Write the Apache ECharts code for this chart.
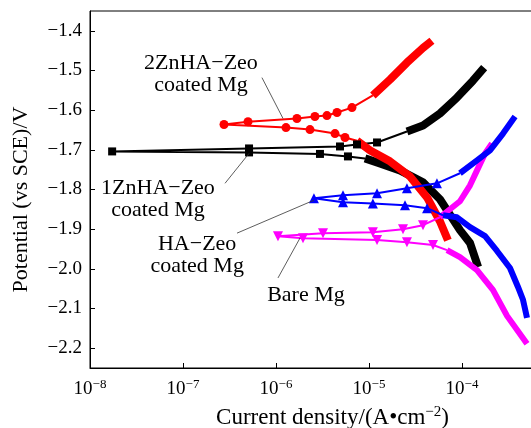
<!DOCTYPE html>
<html><head><meta charset="utf-8">
<script src="https://cdn.jsdelivr.net/npm/echarts@6/dist/echarts.min.js"></script>
<style>html,body{margin:0;padding:0;background:#fff}#c{width:531px;height:428px}</style>
</head><body><div id="c"></div>
<script>
// ---- data: [current density (A/cm2), potential (V vs SCE)] ----
const xTicks = [1e-8, 1e-7, 1e-6, 1e-5, 1e-4, 1e-3];
const yTicks = [-2.2, -2.1, -2.0, -1.9, -1.8, -1.7, -1.6, -1.5, -1.4];

// 2ZnHA-Zeo coated Mg (red)
const redCathDense = [[7.06e-5,-1.928],[5.79e-5,-1.880],[4.21e-5,-1.820],[2.76e-5,-1.767],[1.68e-5,-1.729],[1.03e-5,-1.7015],[7.43e-6,-1.677]];
const redCathSparse = [[5.52e-6,-1.669],[4.31e-6,-1.659],[2.32e-6,-1.649],[1.28e-6,-1.644]];
const redTip = [2.76e-7,-1.636];
const redAnSparse = [[5.0e-7,-1.629],[1.68e-6,-1.621],[2.62e-6,-1.616],[3.53e-6,-1.6136],[4.53e-6,-1.606],[6.56e-6,-1.5935]];
const redAnDense = [[1.10e-5,-1.563],[1.68e-5,-1.523],[2.56e-5,-1.480],[3.81e-5,-1.443],[4.75e-5,-1.425]];

// 1ZnHA-Zeo coated Mg (black)
const blackCathDense = [[1.49e-4,-1.9955],[1.22e-4,-1.935],[9.51e-5,-1.9025],[5.79e-5,-1.8246],[3.81e-5,-1.7819],[2.15e-5,-1.7518],[1.31e-5,-1.7342],[9.06e-6,-1.7216]];
const blackCathSparse = [[5.94e-6,-1.7166],[2.97e-6,-1.7103],[5.13e-7,-1.7065]];
const blackTip = [1.73e-8,-1.704];
const blackAnSparse = [[5.13e-7,-1.6965],[4.88e-6,-1.6915],[7.43e-6,-1.6864],[1.22e-5,-1.6814]];
const blackAnDense = [[2.56e-5,-1.6538],[3.81e-5,-1.6387],[5.79e-5,-1.6085],[8.83e-5,-1.5683],[1.31e-4,-1.5256],[1.73e-4,-1.493]];

// HA-Zeo coated Mg (blue)
const blueCathDense = [[5.0e-4,-2.1236],[4.53e-4,-2.078],[4.0e-4,-2.0457],[3.28e-4,-1.998],[2.38e-4,-1.955],[1.77e-4,-1.9176],[1.22e-4,-1.895],[8.83e-5,-1.870],[6.25e-5,-1.865]];
const blueCathSparse = [[4.21e-5,-1.847],[2.44e-5,-1.840],[1.10e-5,-1.835],[5.25e-6,-1.832]];
const blueTip = [2.56e-6,-1.822];
const blueAnSparse = [[5.25e-6,-1.8146],[1.22e-5,-1.8095],[2.56e-5,-1.797],[5.38e-5,-1.7844]];
const blueAnDense = [[9.51e-5,-1.759],[1.45e-4,-1.7266],[2.0e-4,-1.7015],[2.76e-4,-1.659],[3.72e-4,-1.616]];

// Bare Mg (magenta)
const magCathDense = [[5.0e-4,-2.189],[3.05e-4,-2.1186],[2.15e-4,-2.053],[1.45e-4,-2.003],[9.51e-5,-1.9704],[6.90e-5,-1.9528]];
const magCathSparse = [[4.88e-5,-1.940],[2.56e-5,-1.9327],[1.22e-5,-1.9276],[1.95e-6,-1.9226]];
const magTip = [1.05e-6,-1.9176];
const magAnSparse = [[3.20e-6,-1.910],[1.10e-5,-1.9075],[2.32e-5,-1.900],[3.81e-5,-1.890]];
const magAnDense = [[5.79e-5,-1.870],[9.51e-5,-1.8296],[1.22e-4,-1.7894],[1.45e-4,-1.7518],[1.77e-4,-1.709],[2.10e-4,-1.684]];

// annotation labels
const annTexts = ['2ZnHA\u2212Zeo\ncoated Mg', '1ZnHA\u2212Zeo\ncoated Mg', 'HA\u2212Zeo\ncoated Mg', 'Bare Mg'];
const annAt   = [[1.56e-7,-1.5106],[5.38e-8,-1.8246],[1.42e-7,-1.9653],[2.10e-6,-2.0658]];
const annFrom = [[7.06e-7,-1.518],[2.83e-7,-1.7844],[3.81e-7,-1.910],[1.05e-6,-2.023]];
const annTo   = [[1.19e-6,-1.621],[5.13e-7,-1.709],[2.56e-6,-1.827],[1.81e-6,-1.9226]];

// ---- chart ----
const FONT = 'Liberation Serif';
const chart = echarts.init(document.getElementById('c'));

function thinPath(cd, cs, tip, as, ad) {
  const pts = [{value: cd[cd.length - 1], symbol: 'none'}];
  cs.forEach(p => pts.push({value: p}));
  pts.push({value: tip});
  as.forEach(p => pts.push({value: p}));
  pts.push({value: ad[0], symbol: 'none'});
  return pts;
}
function curve(color, symbol, size, width, cd, cs, tip, as, ad) {
  const thick = d => ({type: 'line', data: d, showSymbol: false, symbol: 'none', silent: true,
    lineStyle: {color, width, cap: 'butt', join: 'round'}, itemStyle: {color}, animation: false});
  return [
    thick(cd), thick(ad),
    {type: 'line', data: thinPath(cd, cs, tip, as, ad), symbol, symbolSize: size, showAllSymbol: true,
      lineStyle: {color, width: 2}, itemStyle: {color}, animation: false, silent: true}
  ];
}

const series = [].concat(
  curve('#000000', 'rect', 8, 8, blackCathDense, blackCathSparse, blackTip, blackAnSparse, blackAnDense),
  curve('#ff0000', 'circle', 9, 8, redCathDense, redCathSparse, redTip, redAnSparse, redAnDense),
  curve('#ff00ff', 'path://M0,0 L10,0 L5,9 Z', 10, 6, magCathDense, magCathSparse, magTip, magAnSparse, magAnDense),
  curve('#0000ff', 'triangle', 10, 6, blueCathDense, blueCathSparse, blueTip, blueAnSparse, blueAnDense)
);

const fmtMinus = s => s.replace('-', '\u2212');

chart.setOption({
  animation: false,
  grid: {left: 90, top: 11, right: -24, bottom: 60, show: true, borderColor: '#000', borderWidth: 1,
    containLabel: false, outerBoundsMode: 'none'},
  xAxis: {
    type: 'log', logBase: 10, min: xTicks[0], max: xTicks[xTicks.length - 1],
    axisLine: {lineStyle: {color: '#000', width: 1}},
    axisTick: {inside: true, length: 5, lineStyle: {color: '#000'}},
    minorTick: {show: false}, splitLine: {show: false},
    axisLabel: {
      color: '#000', fontFamily: FONT, fontSize: 19, margin: 10,
      formatter: v => '10{s|' + fmtMinus(String(Math.round(Math.log10(v)))) + '}',
      rich: {s: {fontSize: 13, fontFamily: FONT, color: '#000', verticalAlign: 'top', padding: [0, 0, 9, 0]}}
    },
    name: 'Current density/(A\u2022cm{s|\u22122})', nameLocation: 'middle', nameGap: 37,
    nameTextStyle: {color: '#000', fontFamily: FONT, fontSize: 23, padding: [0, 0, 0, 20],
      rich: {s: {fontSize: 15, fontFamily: FONT, color: '#000', padding: [0, 0, 11, 0]}}}
  },
  yAxis: {
    type: 'value', min: -2.25, max: -1.35,
    axisLine: {show: true, lineStyle: {color: '#000', width: 1}},
    axisTick: {show: true, inside: true, length: 5, lineStyle: {color: '#000'}, customValues: yTicks},
    splitLine: {show: false},
    axisLabel: {color: '#000', fontFamily: FONT, fontSize: 19, margin: 8, customValues: yTicks,
      formatter: v => fmtMinus(v.toFixed(1))},
    name: 'Potential (vs SCE)/V', nameLocation: 'middle', nameGap: 58, nameRotate: 90,
    nameTextStyle: {color: '#000', fontFamily: FONT, fontSize: 22, padding: [0, 20, 0, 0]}
  },
  series
});

const g = [];
annTexts.forEach((t, i) => {
  const p = chart.convertToPixel({gridIndex: 0}, annAt[i]);
  const a = chart.convertToPixel({gridIndex: 0}, annFrom[i]);
  const b = chart.convertToPixel({gridIndex: 0}, annTo[i]);
  g.push({type: 'line', shape: {x1: a[0], y1: a[1], x2: b[0], y2: b[1]}, style: {stroke: '#333', lineWidth: 0.8}, z: 100});
  g.push({type: 'text', x: p[0], y: p[1], z: 100, style: {text: t, font: '22px "Liberation Serif"', fill: '#000',
    textAlign: 'center', textVerticalAlign: 'middle', lineHeight: 22}});
});
chart.setOption({graphic: g});
</script></body></html>
